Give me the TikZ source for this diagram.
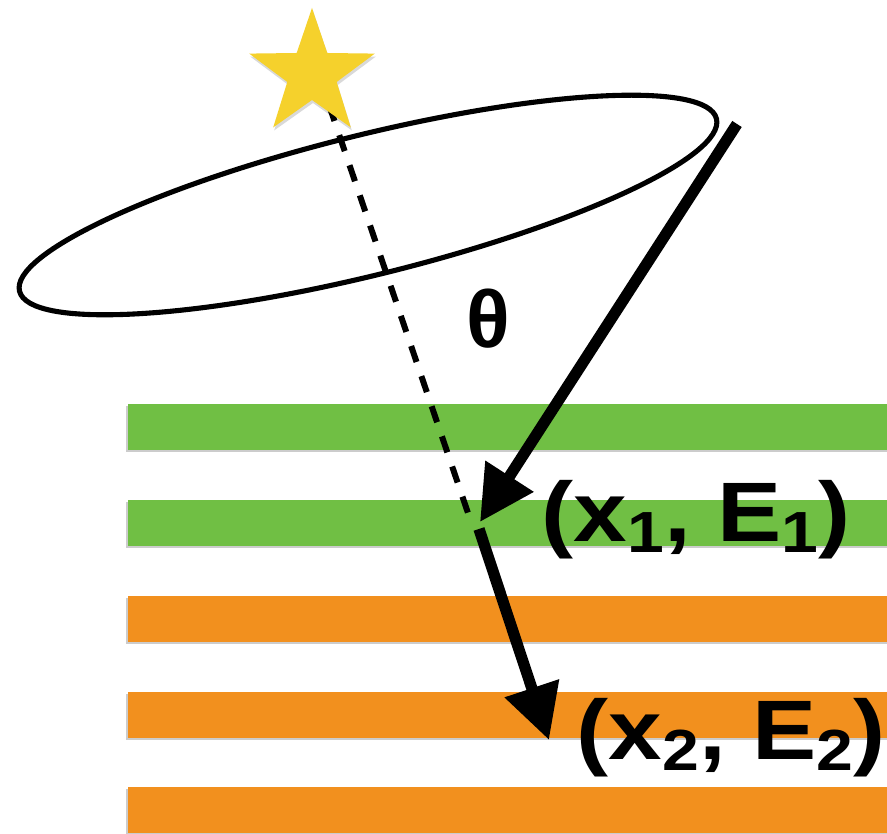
\documentclass[tikz,border=0pt]{standalone}
\usepackage{fontspec}
\setmainfont{Liberation Sans}
\usepackage{graphicx}
\usetikzlibrary{arrows.meta}
\definecolor{barGreen}{RGB}{112,191,68}
\definecolor{barOrange}{RGB}{242,144,30}
\definecolor{starYellow}{RGB}{245,209,44}
\newcommand{\lblsub}[1]{\raisebox{-0.12em}{\fontsize{16.5pt}{18pt}\selectfont #1}}
\begin{document}
\begin{tikzpicture}[x=0.01cm, y=-0.01cm,
  barshadow/.style={fill=black, opacity=0.2},
  ray/.style={line width=3.2pt, -{Triangle[length=15.5pt,width=15.5pt]}},
  axisline/.style={line width=1.7pt, dash pattern=on 4.8pt off 4.25pt},
  cone/.style={line width=1.45pt},
  lbl/.style={inner sep=0pt, font=\fontsize{24pt}{28pt}\selectfont\bfseries},
]
\useasboundingbox (0,0) rectangle (887,834);
\fill[white] (0,0) rectangle (887,834);
% layers
\foreach \y/\c in {404/barGreen,500/barGreen,596/barOrange,692/barOrange,787/barOrange}{
  \fill[barshadow] (126,\y+2) rectangle (887,\y+48);
  \fill[\c] (128,\y) rectangle (887,\y+46);
}
% cone axis
\coordinate (axisTop) at (329,105);
\coordinate (axisEnd) at (468,513);
\draw[axisline] (axisTop) -- (axisEnd);
% cone rim
\draw[cone, rotate around={13.9:(368,205)}] (368,205) ellipse [x radius=359, y radius=70];
% star
\fill[black, opacity=0.15, shift={(1,3)}] (312,8) -- (327.3,53) -- (374.8,53.6) -- (336.7,82) -- (350.8,127.4) -- (312,100) -- (273.2,127.4) -- (287.3,82) -- (249.2,53.6) -- (296.7,53) -- cycle;
\fill[starYellow] (312,8) -- (327.3,53) -- (374.8,53.6) -- (336.7,82) -- (350.8,127.4) -- (312,100) -- (273.2,127.4) -- (287.3,82) -- (249.2,53.6) -- (296.7,53) -- cycle;
% rays
\coordinate (r1s) at (737,124);
\coordinate (x1) at (480,522);
\coordinate (r2s) at (479,529);
\coordinate (x2) at (549,740);
\draw[ray] (r1s) -- (x1);
\draw[ray] (r2s) -- (x2);
% labels
\node[lbl, font=\fontsize{23pt}{26pt}\selectfont\bfseries] (theta) at (488,319) {θ};
\node[lbl, anchor=base west] (lbl1) at (541,542) {\scalebox{1.14}[1]{(x\lblsub{1}, E\lblsub{1})}};
\node[lbl, anchor=base west] (lbl2) at (576,760) {\scalebox{1.14}[1]{(x\lblsub{2}, E\lblsub{2})}};
\end{tikzpicture}
\end{document}
